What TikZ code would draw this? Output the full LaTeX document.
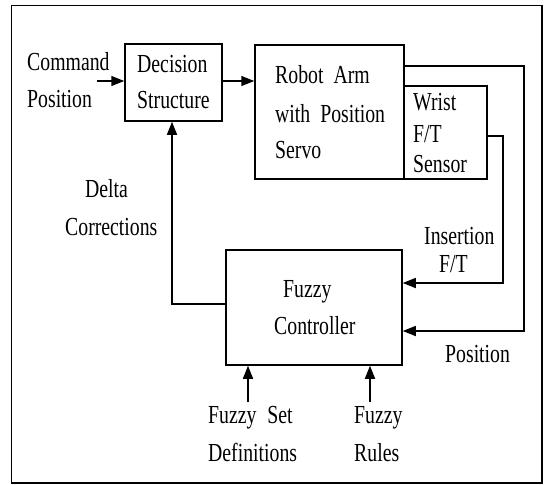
\documentclass[tikz,border=0pt]{standalone}
\usepackage{fontspec}
\setmainfont[FakeStretch=0.76]{Liberation Serif}
\usetikzlibrary{arrows.meta}
\begin{document}
\begin{tikzpicture}[x=1pt,y=-1pt,
  box/.style={draw,line width=1.5pt,inner sep=0pt},
  arr/.style={line width=1.5pt,-{Triangle[length=13pt,width=10pt]}},
  lbl/.style={inner sep=0pt,anchor=base west,font=\fontsize{26}{26}\selectfont}]
\useasboundingbox (0,0) rectangle (550,485);
\draw[line width=1.5pt] (11.5,5.5) rectangle (542,483);
% boxes
\node[box,minimum width=97pt,minimum height=77pt] (dec) at (173.5,82.5) {};
\node[box,minimum width=149pt,minimum height=134pt] (robot) at (329.5,112) {};
\node[box,minimum width=83pt,minimum height=93pt] (wrist) at (445.5,132.5) {};
\node[box,minimum width=176pt,minimum height=115pt] (fuzzy) at (314,307.5) {};
% labels
\node[lbl] (t1) at (27,70) {Command};
\node[lbl] (t2) at (27,107) {Position};
\node[lbl] (t3) at (137,72) {Decision};
\node[lbl] (t4) at (137,108) {Structure};
\node[lbl] (t5) at (275,83) {Robot\hspace{10pt}Arm};
\node[lbl] (t6) at (275,122) {with\hspace{10pt}Position};
\node[lbl] (t7) at (275,158) {Servo};
\node[lbl] (t8) at (413,110) {Wrist};
\node[lbl] (t9) at (413,142) {F/T};
\node[lbl] (t10) at (413,172) {Sensor};
\node[lbl] (t11) at (85,197) {Delta};
\node[lbl] (t12) at (65,235) {Corrections};
\node[lbl] (t13) at (424,244) {Insertion};
\node[lbl] (t14) at (439,272) {F/T};
\node[lbl] (t15) at (283,297) {Fuzzy};
\node[lbl] (t16) at (274,334) {Controller};
\node[lbl] (t17) at (445,362) {Position};
\node[lbl] (t18) at (208,423) {Fuzzy\hspace{11pt}Set};
\node[lbl] (t19) at (208,461) {Definitions};
\node[lbl] (t20) at (354,423) {Fuzzy};
\node[lbl] (t21) at (354,461) {Rules};
% connectors
\coordinate (cmd) at (97,81);
\draw[arr] (cmd) -- (cmd -| dec.west);
\coordinate (dr) at (222,81);
\draw[arr] (dr) -- (dr -| robot.west);
\coordinate (rt) at (404,66);
\coordinate (pc) at (524,331);
\draw[arr] (rt) -| (pc) -- (pc -| fuzzy.east);
\coordinate (wt) at (487,136);
\coordinate (ic) at (503,283);
\draw[arr] (wt) -| (ic) -- (ic -| fuzzy.east);
\coordinate (dl) at (172,304);
\draw[arr] (dl -| fuzzy.west) -- (dl) -- (dl |- dec.south);
\coordinate (fs) at (248,402);
\draw[arr] (fs) -- (fs |- fuzzy.south);
\coordinate (fr) at (370,402);
\draw[arr] (fr) -- (fr |- fuzzy.south);
\end{tikzpicture}
\end{document}
